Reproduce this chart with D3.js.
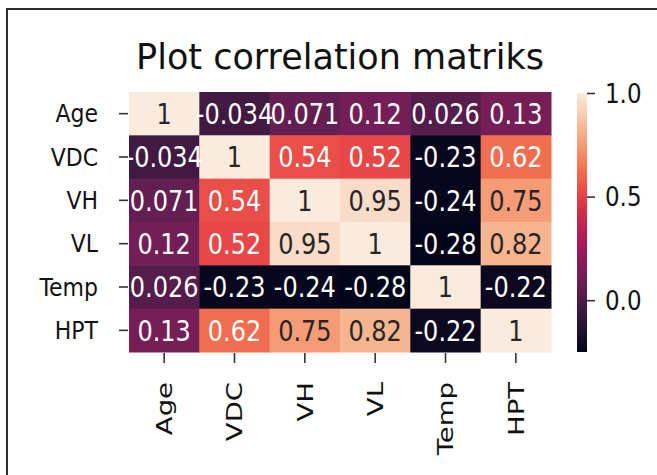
<!DOCTYPE html>
<html>
<head>
<meta charset="utf-8">
<script src="https://cdn.jsdelivr.net/npm/d3@7"></script>
<style>
  html, body { margin: 0; padding: 0; background: #fff; }
  svg { display: block; font-family: "DejaVu Sans", sans-serif; }
</style>
</head>
<body>
<svg id="chart" width="657" height="475"></svg>
<script>
// labels of the matrix (rows == columns)
const variables = ["Age", "VDC", "VH", "VL", "Temp", "HPT"];

// correlation values, one row per variable
const rowAge  = [1, -0.034, 0.071, 0.12, 0.026, 0.13];
const rowVDC  = [-0.034, 1, 0.54, 0.52, -0.23, 0.62];
const rowVH   = [0.071, 0.54, 1, 0.95, -0.24, 0.75];
const rowVL   = [0.12, 0.52, 0.95, 1, -0.28, 0.82];
const rowTemp = [0.026, -0.23, -0.24, -0.28, 1, -0.22];
const rowHPT  = [0.13, 0.62, 0.75, 0.82, -0.22, 1];
const matrix = [rowAge, rowVDC, rowVH, rowVL, rowTemp, rowHPT];

// colorbar range + ticks
const colorDomain = [-0.25, 1];
const colorTicks = [0, 0.5, 1.0];

const titleText = "Plot correlation matriks";

// rocket-like palette (seaborn default)
const rocketStops = ["#03051a", "#35193e", "#701f57", "#ad1759", "#e13342", "#f37651", "#f6b48f", "#faebdd"];

// the screenshot is a bit stretched vertically
const stretchY = 1.2;

const svg = d3.select("#chart");

// frame of the screenshot
svg.append("path")
    .attr("d", "M7,475 L7,9 L657,9")
    .attr("fill", "none")
    .attr("stroke", "#2e2e2e")
    .attr("stroke-width", 2);

const heat = {left: 129, right: 551, top: 92, bottom: 352};

const x = d3.scaleBand().domain(variables).range([heat.left, heat.right]);
const y = d3.scaleBand().domain(variables).range([heat.top, heat.bottom]);

const color = d3.scaleLinear()
    .domain(rocketStops.map((c, i) => colorDomain[0] + (colorDomain[1] - colorDomain[0]) * i / (rocketStops.length - 1)))
    .range(rocketStops)
    .clamp(true);

// matplotlib style relative luminance to pick annotation colour
function luminance(c) {
    const rgb = d3.rgb(c);
    const lin = v => { v /= 255; return v <= 0.03928 ? v / 12.92 : Math.pow((v + 0.055) / 1.055, 2.4); };
    return 0.2126 * lin(rgb.r) + 0.7152 * lin(rgb.g) + 0.0722 * lin(rgb.b);
}

// python-ish ".2g" formatting
function fmt(v) {
    if (v === 1) return "1";
    return String(+v.toPrecision(2));
}

const cells = [];
matrix.forEach((row, i) => row.forEach((v, j) => cells.push({r: variables[i], c: variables[j], v: v})));

const g = svg.append("g");
g.selectAll("rect.cell")
    .data(cells)
    .join("rect")
    .attr("class", "cell")
    .attr("x", d => x(d.c))
    .attr("y", d => y(d.r))
    .attr("width", x.bandwidth() + 0.5)
    .attr("height", y.bandwidth() + 0.5)
    .attr("fill", d => color(d.v));

g.selectAll("text.annot")
    .data(cells)
    .join("text")
    .attr("class", "annot")
    .attr("transform", d => `translate(${x(d.c) + x.bandwidth() / 2},${y(d.r) + y.bandwidth() / 2}) scale(1,${stretchY})`)
    .attr("dy", "0.36em")
    .attr("text-anchor", "middle")
    .attr("font-size", 24)
    .attr("fill", d => luminance(color(d.v)) > 0.408 ? "#262626" : "#ffffff")
    .text(d => fmt(d.v));

// y axis
const yAxis = svg.append("g")
    .attr("transform", `translate(${heat.left - 1},0)`)
    .call(d3.axisLeft(y).tickSize(9).tickPadding(21));
yAxis.select(".domain").remove();
yAxis.selectAll(".tick line").attr("stroke", "#333").attr("stroke-width", 1.6);
yAxis.selectAll(".tick text")
    .attr("font-size", 22)
    .attr("fill", "#111")
    .attr("font-family", "DejaVu Sans")
    .attr("transform", `translate(-30,0) scale(1,1.15)`)
    .attr("x", 0)
    .attr("dy", "0.34em");

// x axis, labels rotated
const xAxis = svg.append("g")
    .attr("transform", `translate(0,${heat.bottom + 1})`)
    .call(d3.axisBottom(x).tickSize(10).tickPadding(0));
xAxis.select(".domain").remove();
xAxis.selectAll(".tick line").attr("stroke", "#333").attr("stroke-width", 1.6);
xAxis.selectAll(".tick text")
    .attr("font-size", 22)
    .attr("fill", "#111")
    .attr("font-family", "DejaVu Sans")
    .attr("text-anchor", "end")
    .attr("transform", `translate(0,29) scale(1,1.25) rotate(-90)`)
    .attr("x", 0)
    .attr("y", 0)
    .attr("dy", "0.36em");

// title
svg.append("text")
    .attr("x", (heat.left + heat.right) / 2)
    .attr("y", 69)
    .attr("text-anchor", "middle")
    .attr("font-size", 35)
    .attr("fill", "#111")
    .text(titleText);

// colorbar
const cb = {left: 577, width: 10, top: 93, bottom: 352};
const cScale = d3.scaleLinear().domain(colorDomain).range([cb.bottom, cb.top]);

const grad = svg.append("defs").append("linearGradient")
    .attr("id", "cbgrad")
    .attr("x1", 0).attr("y1", 1).attr("x2", 0).attr("y2", 0);
d3.range(0, 1.0001, 0.05).forEach(t => {
    grad.append("stop")
        .attr("offset", t)
        .attr("stop-color", color(colorDomain[0] + t * (colorDomain[1] - colorDomain[0])));
});
svg.append("rect")
    .attr("x", cb.left)
    .attr("y", cb.top)
    .attr("width", cb.width)
    .attr("height", cb.bottom - cb.top)
    .attr("fill", "url(#cbgrad)");

const cAxis = svg.append("g")
    .attr("transform", `translate(${cb.left + cb.width},0)`)
    .call(d3.axisRight(cScale).tickValues(colorTicks).tickFormat(d3.format(".1f")).tickSize(8).tickPadding(0));
cAxis.select(".domain").remove();
cAxis.selectAll(".tick line").attr("stroke", "#333").attr("stroke-width", 1.6);
cAxis.selectAll(".tick text")
    .attr("font-size", 23)
    .attr("fill", "#111")
    .attr("font-family", "DejaVu Sans")
    .attr("transform", `translate(18,0) scale(1,1.18)`)
    .attr("x", 0)
    .attr("dy", "0.34em");
</script>
</body>
</html>
